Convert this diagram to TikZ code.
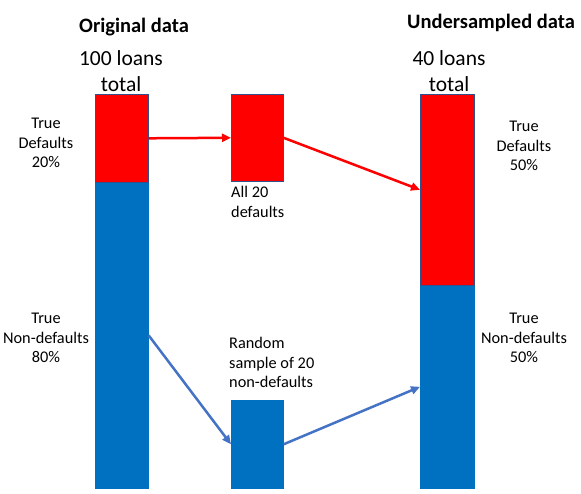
\documentclass[tikz,border=0pt]{standalone}
\usepackage{fontspec}
\setmainfont{Carlito}
\usetikzlibrary{arrows.meta}
\definecolor{barred}{HTML}{FF0000}
\definecolor{barblue}{HTML}{0070C0}
\definecolor{arrblue}{HTML}{4472C4}
\definecolor{edgeblue}{HTML}{2F528F}
\begin{document}
\begin{tikzpicture}[x=1pt,y=-1pt,
  bar/.style={draw=edgeblue,line width=0.6pt,inner sep=0pt,anchor=north west},
  redbar/.style={bar,fill=barred},
  bluebar/.style={bar,fill=barblue,draw=barblue},
  lbl/.style={font=\fontsize{16.3}{19.5}\selectfont,align=center,inner sep=0pt},
  lbll/.style={font=\fontsize{16.3}{19.5}\selectfont,align=left,inner sep=0pt,anchor=north west},
  big/.style={font=\fontsize{21.5}{26}\selectfont,align=center,inner sep=0pt},
  ttl/.style={font=\fontsize{20.5}{24}\selectfont\bfseries,inner sep=0pt},
  arr/.style={line width=2.5pt,-{Triangle[length=9pt,width=8pt]}}]
\useasboundingbox (0,0) rectangle (581,494);
% bars
\node[bluebar,minimum width=53pt,minimum height=306pt] (lblue) at (95,182) {};
\node[redbar,minimum width=53pt,minimum height=88pt] (lred) at (95,94) {};
\node[redbar,minimum width=52pt,minimum height=87pt] (mred) at (231,94) {};
\node[bluebar,minimum width=52pt,minimum height=88pt] (mblue) at (231,400) {};
\node[bluebar,minimum width=54pt,minimum height=203pt] (rblue) at (420,285) {};
\node[redbar,minimum width=54pt,minimum height=191pt] (rred) at (420,94) {};
% titles
\node[ttl] (t1) at (134,27) {Original data};
\node[ttl] (t2) at (491,23) {Undersampled data};
\node[big] (n1) at (121,71) {100 loans\\total};
\node[big] (n2) at (449,71) {40 loans\\total};
% labels
\node[lbl] (l1) at (46,143) {True\\Defaults\\20\%};
\node[lbl] (l2) at (46,338) {True\\Non-defaults\\80\%};
\node[lbl] (l3) at (524,146) {True\\Defaults\\50\%};
\node[lbl] (l4) at (524,338) {True\\Non-defaults\\50\%};
\node[lbll] (l5) at (231,186) {All 20\\defaults};
\node[lbll] (l6) at (229,337) {Random\\sample of 20\\non-defaults};
% arrows
\draw[arr,barred] (lred.east) -- (mred.west);
\draw[arr,barred] (mred.east) -- (rred.west);
\draw[arr,arrblue] (lblue.east) -- (mblue.west);
\draw[arr,arrblue] (mblue.east) -- (rblue.west);
\end{tikzpicture}
\end{document}
